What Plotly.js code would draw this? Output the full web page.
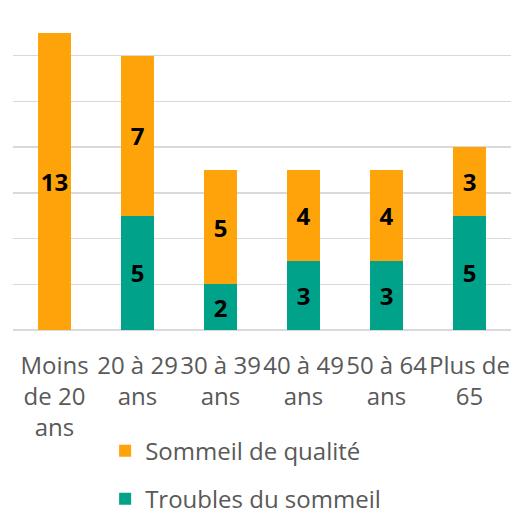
<!DOCTYPE html>
<html>
<head>
<meta charset="utf-8">
<script src="https://cdn.plot.ly/plotly-3.0.1.min.js"></script>
<style>html,body{margin:0;padding:0;background:#fff;}#chart{width:514px;height:518px;}</style>
</head>
<body>
<div id="chart"></div>
<script>
const categories = ["Moins<br>de 20<br>ans", "20 à 29<br>ans", "30 à 39<br>ans", "40 à 49<br>ans", "50 à 64<br>ans", "Plus de<br>65"];
const troubles = [0, 5, 2, 3, 3, 5];
const qualite = [13, 7, 5, 4, 4, 3];
const seriesNames = ["Troubles du sommeil", "Sommeil de qualité"];
const colors = ["#00A389", "#FFA30B"];
const legendRanks = [2, 1];

const textOf = arr => arr.map(v => v ? String(v) : "");
const mk = (vals, i) => ({
  type: "bar",
  x: categories,
  y: vals,
  name: seriesNames[i],
  legendgroup: "g" + i,
  legendrank: legendRanks[i],
  marker: {color: colors[i]},
  text: textOf(vals),
  textposition: "inside",
  insidetextanchor: "middle",
  textangle: 0,
  constraintext: "none",
  textfont: {family: "Open Sans, sans-serif", size: 24, color: "#000", weight: "bold"},
  hoverinfo: "skip"
});

const data = [mk(troubles, 0), mk(qualite, 1)];

const layout = {
  width: 514, height: 518,
  margin: {l: 13, r: 3, t: 10, b: 188, autoexpand: false},
  barmode: "stack",
  bargap: 0.6,
  paper_bgcolor: "#fff",
  plot_bgcolor: "#fff",
  font: {family: "Open Sans, sans-serif", color: "#595959", size: 24},
  xaxis: {
    type: "category",
    showgrid: false, showline: false, ticks: "",
    tickangle: 0,
    tickfont: {size: 24, color: "#595959"},
    ticklabelstandoff: 19,
    automargin: false
  },
  yaxis: {
    range: [0, 14], dtick: 2,
    showticklabels: false, ticks: "",
    gridcolor: "#D9D9D9", gridwidth: 1.3,
    zeroline: true, zerolinecolor: "#D9D9D9", zerolinewidth: 1.3,
    automargin: false
  },
  showlegend: true,
  legend: {
    orientation: "v",
    x: 0.185, xanchor: "left",
    y: -0.308, yanchor: "top",
    traceorder: "grouped",
    tracegroupgap: 14,
    font: {size: 24, color: "#595959"},
    bgcolor: "rgba(0,0,0,0)"
  }
};

Plotly.newPlot("chart", data, layout, {displayModeBar: false, staticPlot: true});
</script>
</body>
</html>
